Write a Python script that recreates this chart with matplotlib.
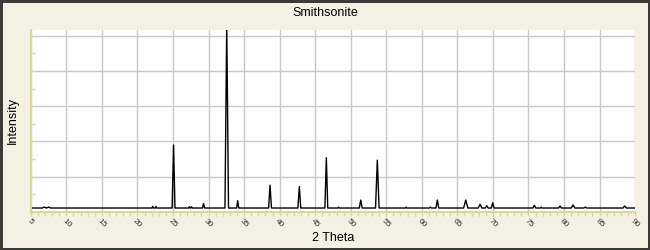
import matplotlib.pyplot as plt
from matplotlib.ticker import MultipleLocator, NullFormatter

# peak table: position (2 theta), top (counts), half width
peak_pos = [6.9, 7.5, 22.15, 22.6, 25.08, 27.3, 27.6, 29.3, 32.56, 34.1,
            38.65, 42.77, 46.57, 48.3, 51.41, 53.74, 57.8, 61.2, 62.18, 66.18,
            68.19, 69.13, 69.97, 75.83, 76.8, 79.44, 81.27, 83.0, 88.54]
peak_height = [140, 140, 160, 160, 1900, 150, 150, 240, 5300, 320,
               760, 720, 1540, 140, 340, 1470, 140, 140, 340, 340,
               220, 180, 260, 190, 140, 170, 200, 140, 170]
peak_hw = [0.3, 0.3, 0.1, 0.1, 0.2, 0.1, 0.1, 0.15, 0.25, 0.15,
           0.2, 0.2, 0.2, 0.1, 0.2, 0.25, 0.1, 0.15, 0.2, 0.3,
           0.25, 0.2, 0.2, 0.2, 0.1, 0.2, 0.25, 0.2, 0.25]
baseline = 113
x_range = (5, 90)

BG = "#f4f1e4"
SPINE = "#ddd59a"
GRID = "#c8c8c8"

plt.rcParams["font.family"] = ["Liberation Sans", "DejaVu Sans"]

fig = plt.figure(figsize=(6.5, 2.5), dpi=100, facecolor=BG,
                 edgecolor="#3b3a36", linewidth=2.5)
ax = fig.add_axes([30.8 / 650, 38 / 250, (635.1 - 30.8) / 650, 182 / 250])
ax.set_facecolor("white")

# build the trace: flat baseline with a spike at each peak
xs, ys = [x_range[0]], [baseline]
for p, h, w in zip(peak_pos, peak_height, peak_hw):
    xs += [p - w, p, p + w]
    ys += [baseline, h, baseline]
xs.append(x_range[1]); ys.append(baseline)
ax.plot(xs, ys, color="black", lw=1.0)

ax.set_xlim(*x_range)
ax.set_ylim(0, 5160)
ax.xaxis.set_major_locator(MultipleLocator(5))
ax.xaxis.set_minor_locator(MultipleLocator(1))
ax.yaxis.set_major_locator(MultipleLocator(1000))
ax.yaxis.set_minor_locator(MultipleLocator(500))
ax.yaxis.set_major_formatter(NullFormatter())
ax.grid(True, which="major", color=GRID, lw=1.0)
ax.set_axisbelow(True)

for s in ("top", "right"):
    ax.spines[s].set_visible(False)
for s in ("left", "bottom"):
    ax.spines[s].set_color(SPINE)
    ax.spines[s].set_linewidth(1.5)

ax.tick_params(axis="x", which="both", direction="out", color=SPINE,
               length=3, width=1, labelsize=6, labelcolor="#333333", pad=1)
ax.tick_params(axis="y", which="both", direction="in", color=SPINE,
               length=3, width=1)
for lab in ax.get_xticklabels():
    lab.set_rotation(-45)
    lab.set_ha("center")

ax.set_xlabel("2 Theta", fontsize=9, labelpad=2)
ax.set_ylabel("Intensity", fontsize=9, labelpad=5)
fig.text(325.6 / 650, 1 - 13 / 250, "Smithsonite", fontsize=9,
         ha="center", va="center")

fig.savefig("out.png", dpi=100, facecolor=fig.get_facecolor(),
            edgecolor=fig.get_edgecolor())
